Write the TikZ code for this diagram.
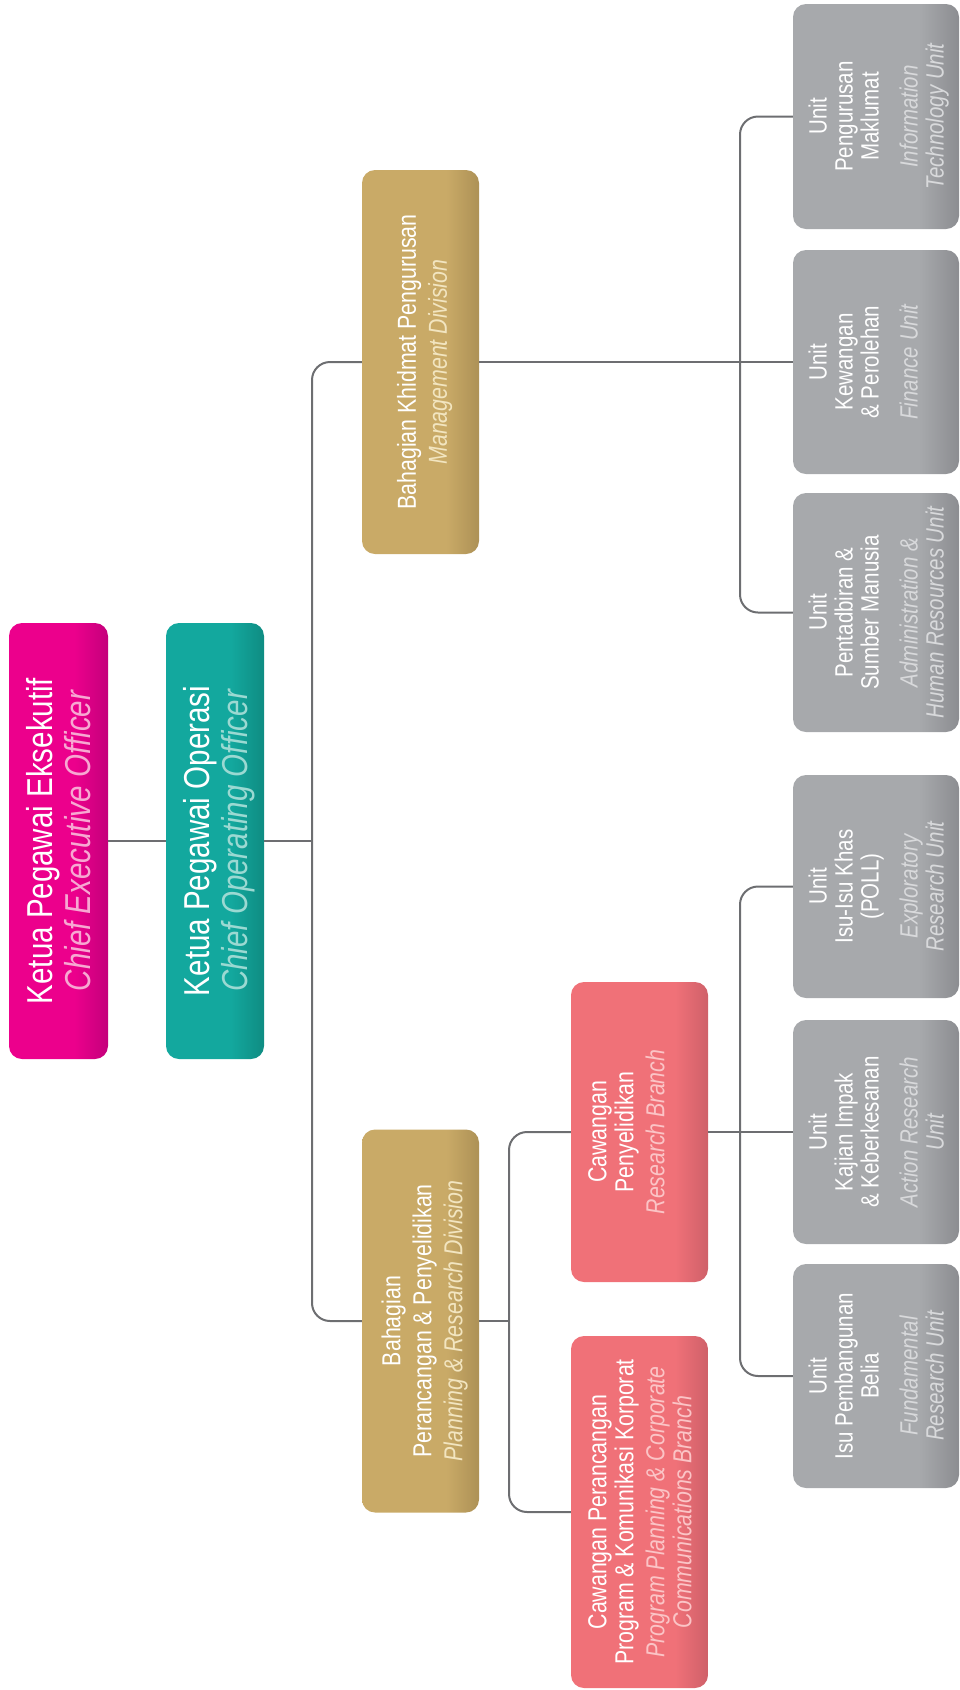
\documentclass[tikz,border=0pt]{standalone}
\usepackage{fontspec}
\setmainfont{Liberation Sans}[FakeStretch=0.82]
\usepackage{graphicx}

\definecolor{ceofill}{HTML}{EC008C}
\definecolor{ceodark}{HTML}{C4007B}
\definecolor{ceosub}{HTML}{F7A8D2}
\definecolor{coofill}{HTML}{13A89E}
\definecolor{coodark}{HTML}{0F8C82}
\definecolor{coosub}{HTML}{9BD9D2}
\definecolor{divfill}{HTML}{C9AA67}
\definecolor{divdark}{HTML}{AD9156}
\definecolor{divsub}{HTML}{F2E5C0}
\definecolor{brfill}{HTML}{F07178}
\definecolor{brdark}{HTML}{CF6069}
\definecolor{brsub}{HTML}{FBC4C6}
\definecolor{unitfill}{HTML}{A7A9AC}
\definecolor{unitdark}{HTML}{8C8D91}
\definecolor{unitsub}{HTML}{D8D9DB}
\definecolor{linegray}{HTML}{6D6E71}

% darker edge on the right of every box
\pgfdeclarehorizontalshading{ceoshade}{100bp}{color(0bp)=(ceofill); color(58bp)=(ceofill); color(75bp)=(ceodark); color(100bp)=(ceodark)}
\pgfdeclarehorizontalshading{cooshade}{100bp}{color(0bp)=(coofill); color(58bp)=(coofill); color(75bp)=(coodark); color(100bp)=(coodark)}
\pgfdeclarehorizontalshading{divshade}{100bp}{color(0bp)=(divfill); color(61bp)=(divfill); color(75bp)=(divdark); color(100bp)=(divdark)}
\pgfdeclarehorizontalshading{brshade}{100bp}{color(0bp)=(brfill); color(63bp)=(brfill); color(75bp)=(brdark); color(100bp)=(brdark)}
\pgfdeclarehorizontalshading{unitshade}{100bp}{color(0bp)=(unitfill); color(63bp)=(unitfill); color(75bp)=(unitdark); color(100bp)=(unitdark)}

\newcommand{\vlabel}[1]{\rotatebox{90}{\raisebox{0pt}[\height][0pt]{\begin{tabular}[b]{@{}c@{}}#1\end{tabular}}}}
\newcommand{\en}[1]{{\itshape\color{sub}#1}}

\begin{document}
\begin{tikzpicture}[x=1pt, y=-1pt,
    orgbox/.style={rounded corners=13pt, inner sep=0pt, text=white, shading=#1},
    ceobox/.style={orgbox=ceoshade, minimum width=99pt, minimum height=436pt,
      font=\fontsize{36}{38}\selectfont, execute at begin node=\colorlet{sub}{ceosub}},
    coobox/.style={orgbox=cooshade, minimum width=98pt, minimum height=436pt,
      font=\fontsize{36}{38}\selectfont, execute at begin node=\colorlet{sub}{coosub}},
    divbox/.style={orgbox=divshade, minimum width=117pt,
      font=\fontsize{26}{31}\selectfont, execute at begin node=\colorlet{sub}{divsub}},
    branchbox/.style={orgbox=brshade, minimum width=137pt,
      font=\fontsize{26}{27}\selectfont, execute at begin node=\colorlet{sub}{brsub}},
    unitbox/.style={orgbox=unitshade, minimum width=166pt,
      font=\fontsize{25}{26}\selectfont, execute at begin node=\colorlet{sub}{unitsub}},
    link/.style={draw=linegray, line width=2pt, rounded corners=18pt}]
  \useasboundingbox (0,0) rectangle (960,1690);

  % top of the chart
  \node[ceobox] (ceo) at (58.5,841) {\vlabel{Ketua Pegawai Eksekutif\\ \en{Chief Executive Officer}}};
  \node[coobox] (coo) at (215,841) {\vlabel{Ketua Pegawai Operasi\\ \en{Chief Operating Officer}}};

  % divisions and branches
  \node[divbox, minimum height=384pt] (mgmt) at (420.5,362)
    {\vlabel{Bahagian Khidmat Pengurusan\\ \en{Management Division}}};
  \node[divbox, minimum height=383pt] (plan) at (420.5,1321)
    {\vlabel{Bahagian\\ Perancangan \& Penyelidikan\\ \en{Planning \& Research Division}}};
  \node[branchbox, minimum height=300pt] (resb) at (639.5,1132)
    {\vlabel{Cawangan\\ Penyelidikan\\[4pt] \en{Research Branch}\\ {}}};
  \node[branchbox, minimum height=352pt] (comb) at (639.5,1512)
    {\vlabel{Cawangan Perancangan\\ Program \& Komunikasi Korporat\\[4pt] \en{Program Planning \& Corporate}\\ \en{Communications Branch}}};

  % units
  \node[unitbox, minimum height=225pt] (it) at (876,116.5)
    {\vlabel{Unit\\ Pengurusan\\ Maklumat\\[13pt] \en{Information}\\ \en{Technology Unit}}};
  \node[unitbox, minimum height=224pt] (fin) at (876,362)
    {\vlabel{Unit\\ Kewangan\\ \& Perolehan\\[13pt] \en{Finance Unit}\\ {}}};
  \node[unitbox, minimum height=239pt] (adm) at (876,612.5)
    {\vlabel{Unit\\ Pentadbiran \&\\ Sumber Manusia\\[13pt] \en{Administration \&}\\ \en{Human Resources Unit}}};
  \node[unitbox, minimum height=223pt] (poll) at (876,886.5)
    {\vlabel{Unit\\ Isu-Isu Khas\\ (POLL)\\[13pt] \en{Exploratory}\\ \en{Research Unit}}};
  \node[unitbox, minimum height=224pt] (act) at (876,1132)
    {\vlabel{Unit\\ Kajian Impak\\ \& Keberkesanan\\[13pt] \en{Action Research}\\ \en{Unit}}};
  \node[unitbox, minimum height=224pt] (fund) at (876,1376)
    {\vlabel{Unit\\ Isu Pembangunan\\ Belia\\[13pt] \en{Fundamental}\\ \en{Research Unit}}};

  % joints
  \coordinate (trunk) at (312,841);
  \coordinate (plj) at (509,1321);
  \coordinate (mgj) at (740,362);
  \coordinate (rsj) at (740,1132);

  \draw[link] (ceo.east) -- (coo.west);
  \draw[link] (coo.east) -- (trunk);
  \draw[link] (mgmt.west) -| (trunk) |- (plan.west);
  \draw[link] (mgmt.east) -- (fin.west);
  \draw[link] (it.west) -| (mgj) |- (adm.west);
  \draw[link] (plan.east) -- (plj);
  \draw[link] (resb.west) -| (plj) |- (comb.west);
  \draw[link] (resb.east) -- (act.west);
  \draw[link] (poll.west) -| (rsj) |- (fund.west);
\end{tikzpicture}
\end{document}
